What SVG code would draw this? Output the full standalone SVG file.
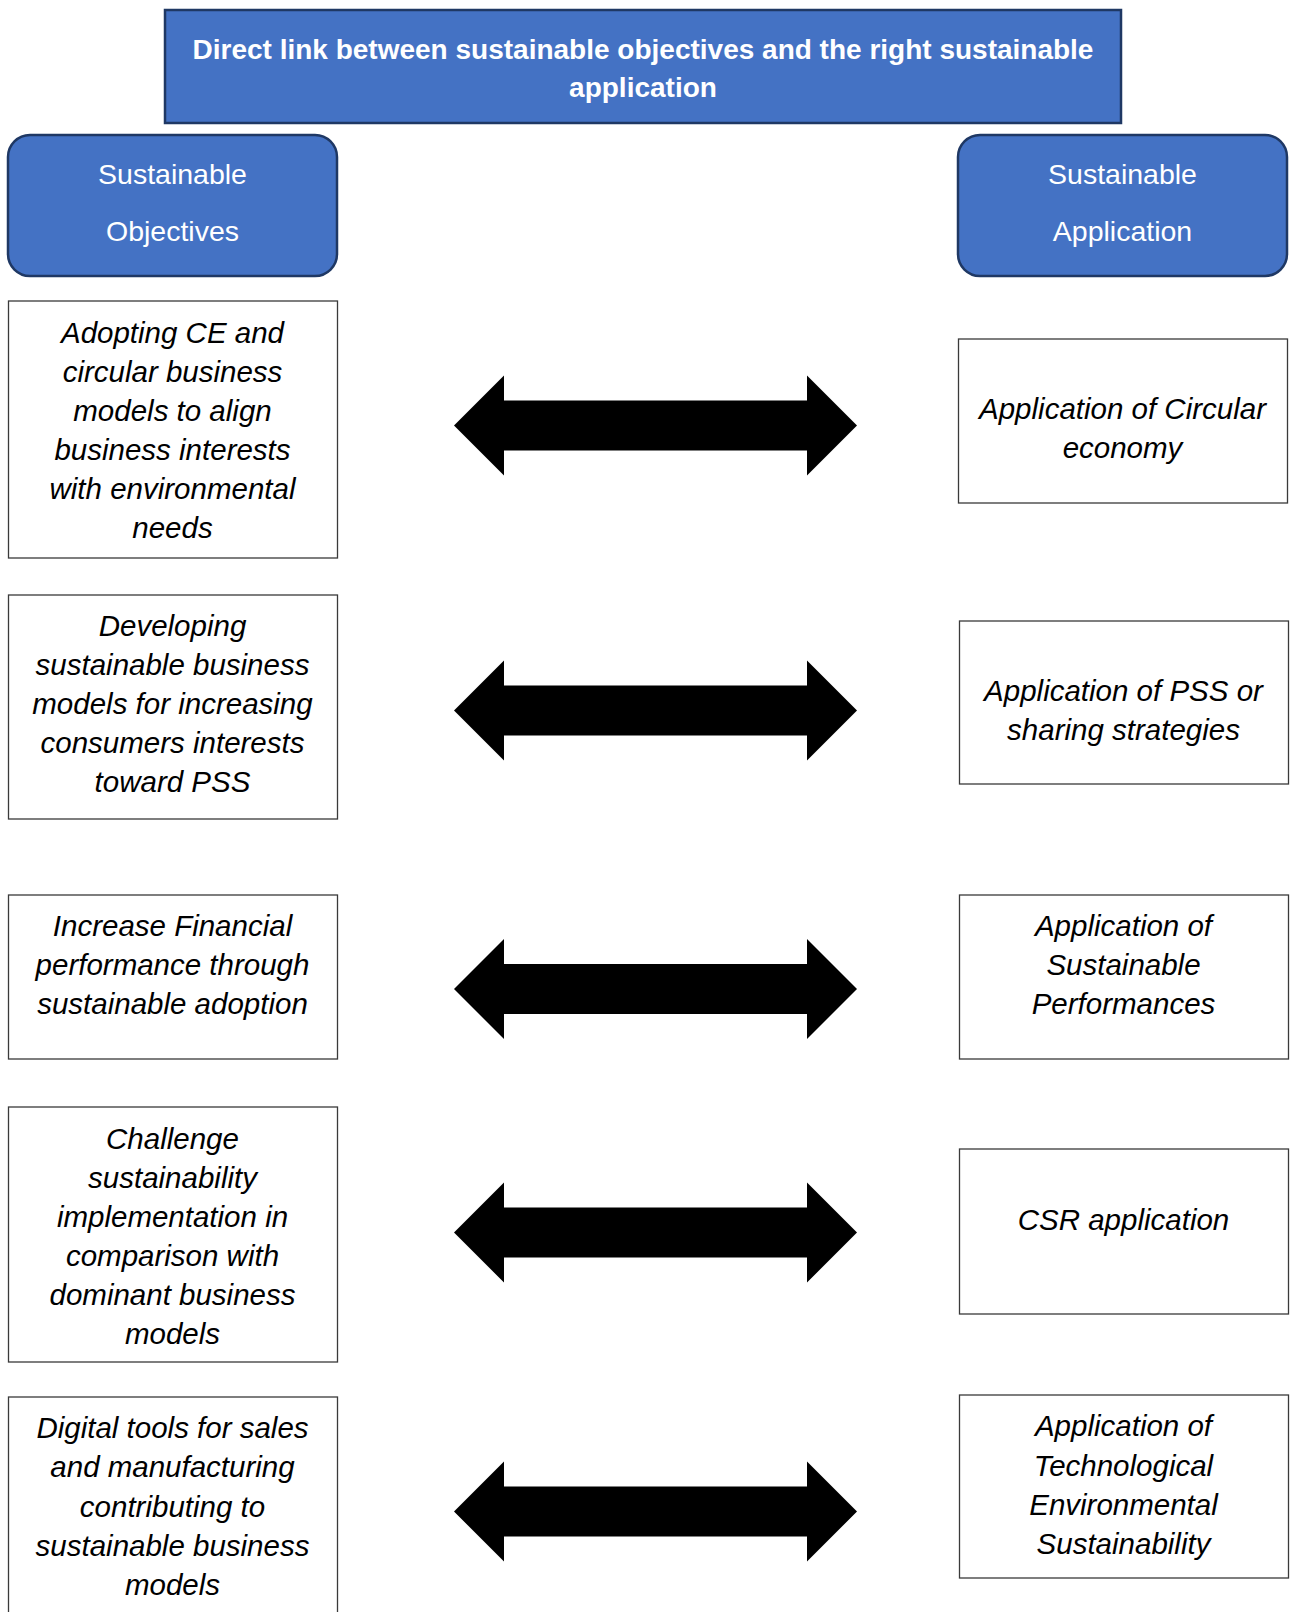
<svg xmlns="http://www.w3.org/2000/svg" width="1290" height="1612" viewBox="0 0 1290 1612">
<style>
.hdr{fill:#4472C4;stroke:#1F3864;stroke-width:2.5}
.box{fill:#FFFFFF;stroke:#3A3A3A;stroke-width:1.3}
.title{font-family:"Liberation Sans",Arial,sans-serif;font-weight:bold;font-size:28px;fill:#FFFFFF;text-anchor:middle}
.htxt{font-family:"Liberation Sans",Arial,sans-serif;font-size:28.5px;fill:#FFFFFF;text-anchor:middle}
.btxt{font-family:"Liberation Sans",Arial,sans-serif;font-style:italic;font-size:29.5px;fill:#000000;text-anchor:middle}
.arrow{fill:#000000}
</style>
<defs>
<path id="dblarrow" d="M454,0 L504,-50 L504,-25 L807,-25 L807,-50 L857,0 L807,50 L807,25 L504,25 L504,50 Z"/>
</defs>
<g id="title">
<rect class="hdr" x="165" y="10" width="956" height="113"/>
<text class="title" x="643" y="59">Direct link between sustainable objectives and the right sustainable</text>
<text class="title" x="643" y="97">application</text>
</g>
<g id="hdr-objectives">
<rect class="hdr" x="8" y="135" width="329" height="141" rx="22" ry="22"/>
<text class="htxt" x="172.5" y="184">Sustainable</text>
<text class="htxt" x="172.5" y="241">Objectives</text>
</g>
<g id="hdr-application">
<rect class="hdr" x="958" y="135" width="329" height="141" rx="22" ry="22"/>
<text class="htxt" x="1122.5" y="184">Sustainable</text>
<text class="htxt" x="1122.5" y="241">Application</text>
</g>
<g id="obj1">
<rect class="box" x="8.5" y="301" width="329" height="257"/>
<text class="btxt" x="172.5" y="343">Adopting CE and</text>
<text class="btxt" x="172.5" y="382">circular business</text>
<text class="btxt" x="172.5" y="421">models to align</text>
<text class="btxt" x="172.5" y="460">business interests</text>
<text class="btxt" x="172.5" y="499">with environmental</text>
<text class="btxt" x="172.5" y="538">needs</text>
</g>
<g id="obj2">
<rect class="box" x="8.5" y="595" width="329" height="224"/>
<text class="btxt" x="172.5" y="636">Developing</text>
<text class="btxt" x="172.5" y="675">sustainable business</text>
<text class="btxt" x="172.5" y="714">models for increasing</text>
<text class="btxt" x="172.5" y="753">consumers interests</text>
<text class="btxt" x="172.5" y="792">toward PSS</text>
</g>
<g id="obj3">
<rect class="box" x="8.5" y="895" width="329" height="164"/>
<text class="btxt" x="172.5" y="936">Increase Financial</text>
<text class="btxt" x="172.5" y="975">performance through</text>
<text class="btxt" x="172.5" y="1014">sustainable adoption</text>
</g>
<g id="obj4">
<rect class="box" x="8.5" y="1107" width="329" height="255"/>
<text class="btxt" x="172.5" y="1149">Challenge</text>
<text class="btxt" x="172.5" y="1188">sustainability</text>
<text class="btxt" x="172.5" y="1227">implementation in</text>
<text class="btxt" x="172.5" y="1266">comparison with</text>
<text class="btxt" x="172.5" y="1305">dominant business</text>
<text class="btxt" x="172.5" y="1344">models</text>
</g>
<g id="obj5">
<rect class="box" x="8.5" y="1397" width="329" height="230"/>
<text class="btxt" x="172.5" y="1438">Digital tools for sales</text>
<text class="btxt" x="172.5" y="1477">and manufacturing</text>
<text class="btxt" x="172.5" y="1517">contributing to</text>
<text class="btxt" x="172.5" y="1556">sustainable business</text>
<text class="btxt" x="172.5" y="1595">models</text>
</g>
<g id="app1">
<rect class="box" x="958.5" y="339" width="329" height="164"/>
<text class="btxt" x="1122.5" y="419">Application of Circular</text>
<text class="btxt" x="1122.5" y="458">economy</text>
</g>
<g id="app2">
<rect class="box" x="959.5" y="621" width="329" height="163"/>
<text class="btxt" x="1123.5" y="701">Application of PSS or</text>
<text class="btxt" x="1123.5" y="740">sharing strategies</text>
</g>
<g id="app3">
<rect class="box" x="959.5" y="895" width="329" height="164"/>
<text class="btxt" x="1123.5" y="936">Application of</text>
<text class="btxt" x="1123.5" y="975">Sustainable</text>
<text class="btxt" x="1123.5" y="1014">Performances</text>
</g>
<g id="app4">
<rect class="box" x="959.5" y="1149" width="329" height="165"/>
<text class="btxt" x="1123.5" y="1230">CSR application</text>
</g>
<g id="app5">
<rect class="box" x="959.5" y="1395" width="329" height="183"/>
<text class="btxt" x="1123.5" y="1436">Application of</text>
<text class="btxt" x="1123.5" y="1476">Technological</text>
<text class="btxt" x="1123.5" y="1515">Environmental</text>
<text class="btxt" x="1123.5" y="1554">Sustainability</text>
</g>
<g id="connectors">
<use class="arrow" href="#dblarrow" transform="translate(0,425.5)"/>
<use class="arrow" href="#dblarrow" transform="translate(0,710.5)"/>
<use class="arrow" href="#dblarrow" transform="translate(0,989)"/>
<use class="arrow" href="#dblarrow" transform="translate(0,1232.5)"/>
<use class="arrow" href="#dblarrow" transform="translate(0,1511.5)"/>
</g>
</svg>
